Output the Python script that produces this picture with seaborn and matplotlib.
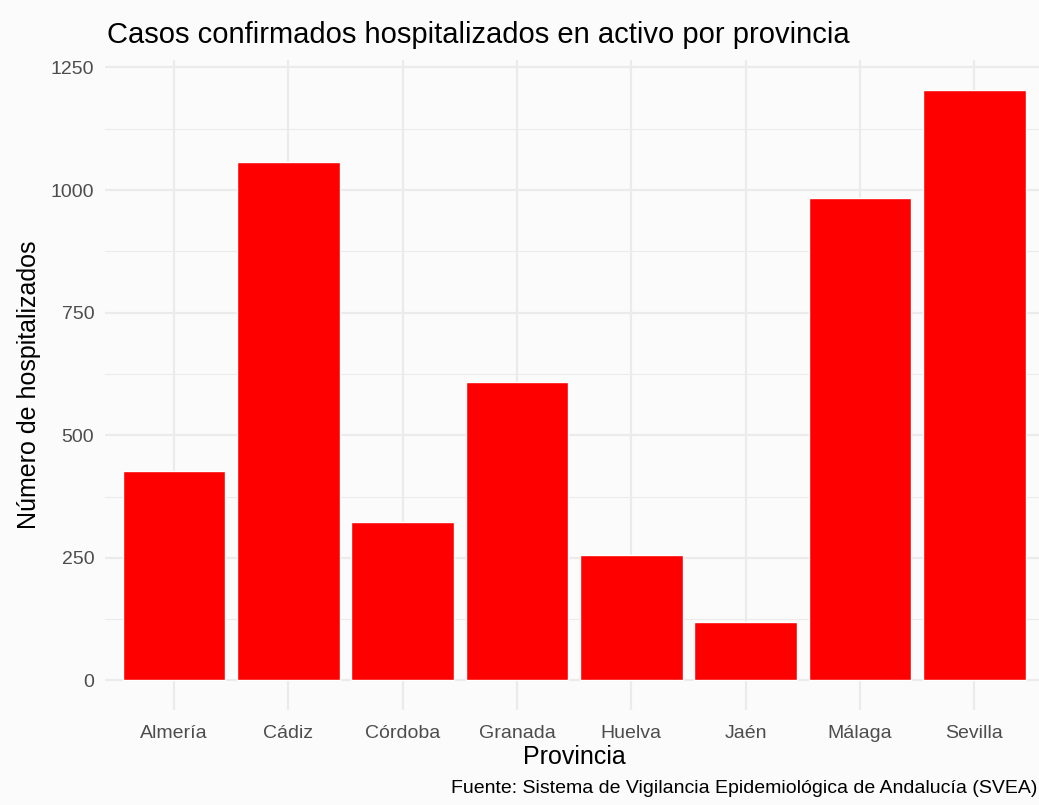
import pandas as pd
import numpy as np
import seaborn as sns
import matplotlib.pyplot as plt
from matplotlib.ticker import MultipleLocator

# hospitalizados en activo por provincia
provincias = ['Almería', 'Cádiz', 'Córdoba', 'Granada', 'Huelva', 'Jaén', 'Málaga', 'Sevilla']
hospitalizados = [427, 1058, 323, 608, 255, 120, 983, 1205]
yticks = [0, 250, 500, 750, 1000, 1250]

df = pd.DataFrame({'Provincia': provincias, 'Hospitalizados': hospitalizados})

sns.set_theme(style="whitegrid")
plt.rcParams['font.family'] = ['Liberation Sans', 'DejaVu Sans']

bg = '#fbfbfb'
grid = '#ebebeb'

fig = plt.figure(figsize=(10.39, 8.05), dpi=100, facecolor=bg)
ax = fig.add_axes([0.1014, 0.118, 0.9024, 0.8075], facecolor=bg)

sns.barplot(data=df, x='Provincia', y='Hospitalizados', color='#ff0000',
            saturation=1, width=0.9, ax=ax, zorder=3)

# ggplot-like expansion
ymax = max(hospitalizados)
ax.set_ylim(-0.05 * ymax, ymax * 1.05)
ax.set_xlim(-0.6, len(provincias) - 1 + 0.6)

ax.set_yticks(yticks)
ax.yaxis.set_minor_locator(MultipleLocator(125))
ax.grid(True, which='major', color=grid, linewidth=1.6, zorder=0)
ax.grid(True, which='minor', axis='y', color=grid, linewidth=0.8, zorder=0)
ax.set_axisbelow(True)
for s in ax.spines.values():
    s.set_visible(False)

ax.tick_params(axis='both', which='both', length=0, labelsize=14, labelcolor='#4d4d4d')
ax.tick_params(axis='y', pad=8)
ax.tick_params(axis='x', pad=11)

ax.set_xlabel('Provincia', fontsize=18, color='black', labelpad=2)
ax.set_ylabel('Número de hospitalizados', fontsize=18, color='black', labelpad=7)

ax.set_title('Casos confirmados hospitalizados en activo por provincia',
             loc='left', fontsize=21, color='black', pad=12, x=0.002)

# caption, right aligned near the panel edge
fig.text(1037 / 1039, 0.021, 'Fuente: Sistema de Vigilancia Epidemiológica de Andalucía (SVEA)',
         ha='right', va='center', fontsize=14, color='black')

fig.savefig('out.png', dpi=100, facecolor=bg)
